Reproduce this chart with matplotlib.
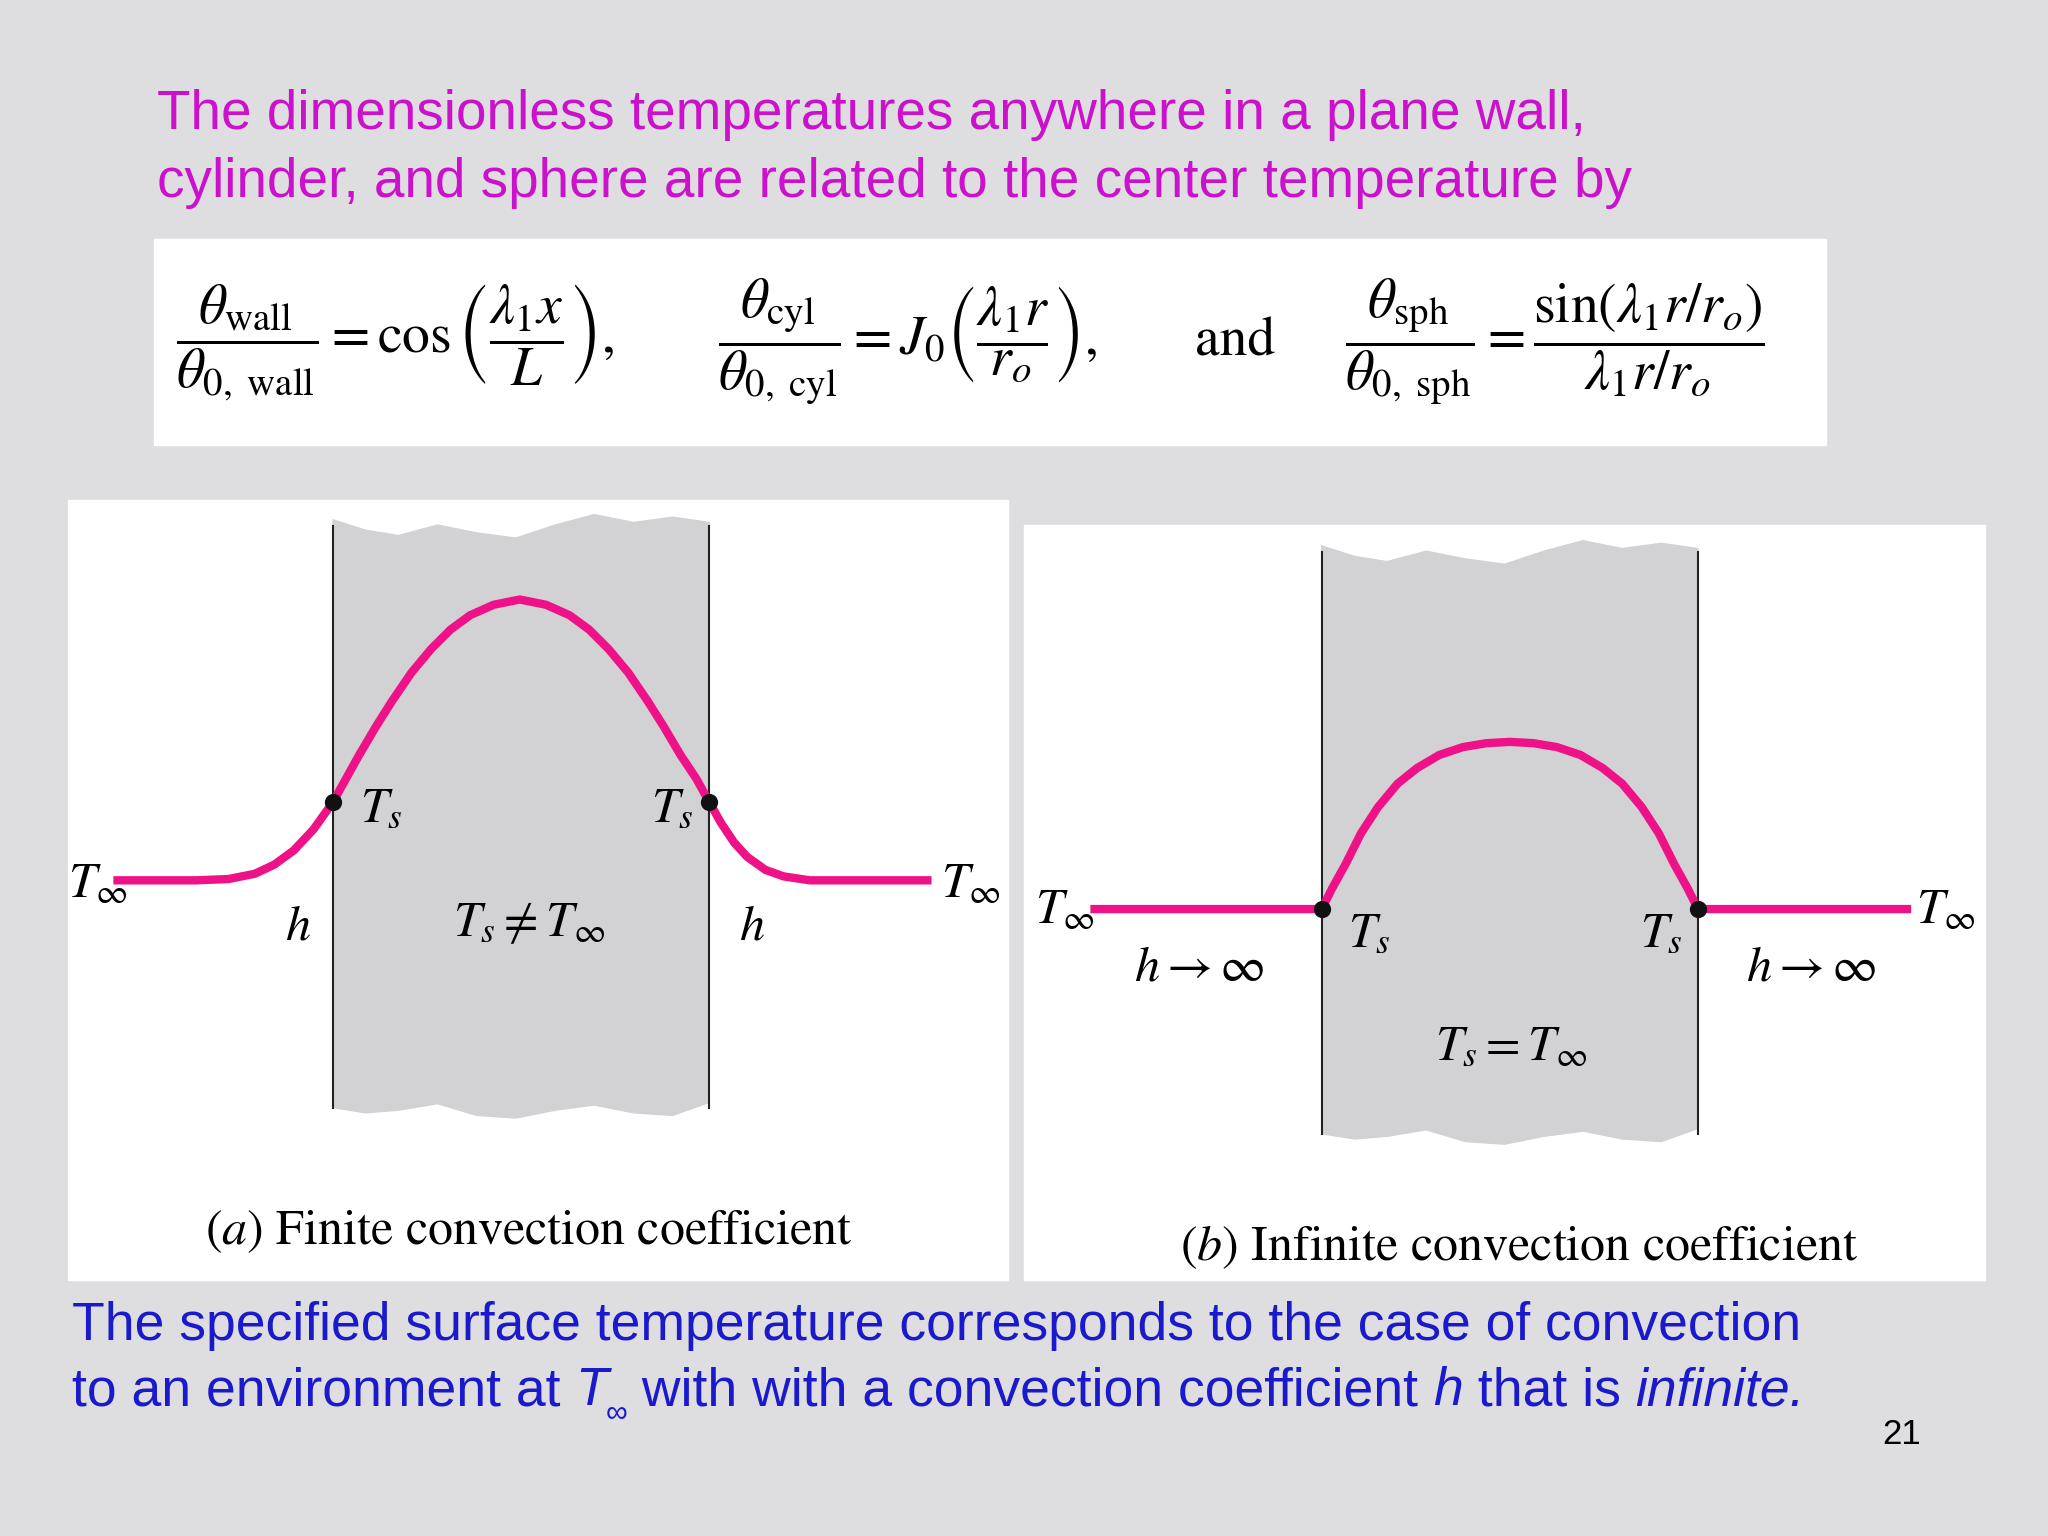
import matplotlib.pyplot as plt
from matplotlib.patches import Rectangle, Polygon

plt.rcParams['font.family'] = ['Liberation Sans', 'DejaVu Sans']
plt.rcParams['mathtext.fontset'] = 'stix'

W, H = 1568, 1176
BG = '#dedee0'
PINK = '#ee1188'
SLAB = '#d2d2d4'

# temperature profiles (slide pixel coordinates)
a_x = [90, 150, 175, 195, 210, 225, 240, 255, 265, 275, 288, 300, 315, 330, 345, 360, 378, 398,
       418, 436, 451, 466, 481, 496, 508, 521, 533, 543, 552, 562, 572, 586, 600, 620, 650, 710]
a_y = [674, 674, 673, 669, 662, 651, 635, 614, 596, 578, 556, 537, 515, 497, 482, 471, 463, 459,
       463, 471, 482, 497, 515, 537, 556, 578, 596, 614, 630, 645, 656, 666, 671, 674, 674, 674]
b_x = [838, 1012, 1020, 1030, 1042, 1055, 1070, 1085, 1102, 1120, 1138, 1156,
       1174, 1192, 1210, 1227, 1242, 1257, 1270, 1282, 1292, 1300, 1460]
b_y = [696, 696, 680, 662, 638, 618, 600, 588, 578, 572, 569, 568,
       569, 572, 578, 588, 600, 618, 638, 662, 680, 696, 696]

fig = plt.figure(figsize=(20.48, 15.36), dpi=100, facecolor=BG)
ax = fig.add_axes([0, 0, 1, 1])
ax.set_xlim(0, W)
ax.set_ylim(H, 0)
ax.axis('off')

ax.text(120, 88, 'The dimensionless temperatures anywhere in a plane wall,', color='#cc11cc', fontsize=39.5, va='center')
ax.text(120, 140, 'cylinder, and sphere are related to the center temperature by', color='#cc11cc', fontsize=39.5, va='center')

# equation box
ax.add_patch(Rectangle((118, 183), 1280, 158, color='white'))
EQ = 40
ax.text(135, 262, r'$\dfrac{\theta_{\rm wall}}{\theta_{0,\ \rm wall}} = \cos\left(\dfrac{\lambda_1 x}{L}\right),$',
        fontsize=EQ, va='center')
ax.text(550, 262, r'$\dfrac{\theta_{\rm cyl}}{\theta_{0,\ \rm cyl}} = J_0\left(\dfrac{\lambda_1 r}{r_o}\right),$',
        fontsize=EQ, va='center')
ax.text(915, 262, 'and', fontsize=EQ, family='STIXGeneral', va='center')
ax.text(1030, 262, r'$\dfrac{\theta_{\rm sph}}{\theta_{0,\ \rm sph}} = \dfrac{\sin(\lambda_1 r/r_o)}{\lambda_1 r/r_o}$',
        fontsize=EQ, va='center')

# panels
ax.add_patch(Rectangle((52, 383), 720, 597, color='white'))
ax.add_patch(Rectangle((784, 402), 736, 578, color='white'))


def slab(x0, x1, top, bot):
    xs = [x0, x0 + 25, x0 + 50, x0 + 80, x0 + 110, x0 + 140, x0 + 170, x0 + 200, x0 + 230, x0 + 260, x1]
    topw = [top, top + 8, top + 12, top + 4, top + 10, top + 14, top + 4, top - 4, top + 2, top - 2, top + 2]
    botw = [bot, bot + 4, bot + 2, bot - 3, bot + 6, bot + 8, bot + 2, bot - 2, bot + 4, bot + 6, bot - 4]
    pts = list(zip(xs, topw)) + list(zip(xs[::-1], botw[::-1]))
    ax.add_patch(Polygon(pts, color=SLAB, zorder=1, joinstyle='round'))
    ax.plot([x0, x0], [top + 5, bot], color='#222222', lw=1.5, zorder=2)
    ax.plot([x1, x1], [top + 5, bot], color='#222222', lw=1.5, zorder=2)


slab(255, 543, 398, 848)
slab(1012, 1300, 418, 868)

ax.plot(a_x, a_y, color=PINK, lw=6, zorder=3, solid_joinstyle='round')
ax.plot(b_x, b_y, color=PINK, lw=6, zorder=3, solid_joinstyle='round')
ax.scatter([255, 543, 1012, 1300], [614, 614, 696, 696], s=130, color='#111111', zorder=4)

lab = dict(fontsize=36, va='center', ha='center', family='STIXGeneral')
ax.text(75, 678, r'$T_\infty$', **lab)
ax.text(743, 678, r'$T_\infty$', **lab)
ax.text(292, 620, r'$T_s$', **lab)
ax.text(515, 620, r'$T_s$', **lab)
ax.text(228, 710, r'$h$', **lab)
ax.text(576, 710, r'$h$', **lab)
ax.text(405, 708, r'$T_s \neq T_\infty$', **lab)
ax.text(405, 943, r'$(a)$ Finite convection coefficient', **lab)

ax.text(815, 698, r'$T_\infty$', **lab)
ax.text(1490, 698, r'$T_\infty$', **lab)
ax.text(1048, 716, r'$T_s$', **lab)
ax.text(1272, 716, r'$T_s$', **lab)
ax.text(918, 742, r'$h \rightarrow \infty$', **lab)
ax.text(1387, 742, r'$h \rightarrow \infty$', **lab)
ax.text(1157, 802, r'$T_s = T_\infty$', **lab)
ax.text(1163, 955, r'$(b)$ Infinite convection coefficient', **lab)

BLUE = '#1a1acc'
ax.text(55, 1015, 'The specified surface temperature corresponds to the case of convection',
        color=BLUE, fontsize=38.5, va='center')

# second line built from pieces so italics stay in the sans family
pieces = [('to an environment at ', 'normal'), ('T', 'italic'), ('\u221e', 'sub'),
          (' with with a convection coefficient ', 'normal'), ('h', 'italic'),
          (' that is ', 'normal'), ('infinite.', 'italic')]
fig.canvas.draw()
r = fig.canvas.get_renderer()
inv = ax.transData.inverted()
x = 55
for s, kind in pieces:
    if kind == 'sub':
        t = ax.text(x - 2, 1082, s, color=BLUE, fontsize=22, va='center')
    else:
        t = ax.text(x, 1065, s, color=BLUE, fontsize=38.5, va='center',
                    style='italic' if kind == 'italic' else 'normal')
    bb = t.get_window_extent(r)
    x = inv.transform((bb.x1, bb.y0))[0]

ax.text(1456, 1098, '21', fontsize=25, va='center', ha='center')

fig.savefig('out.png', dpi=100, facecolor=BG)
